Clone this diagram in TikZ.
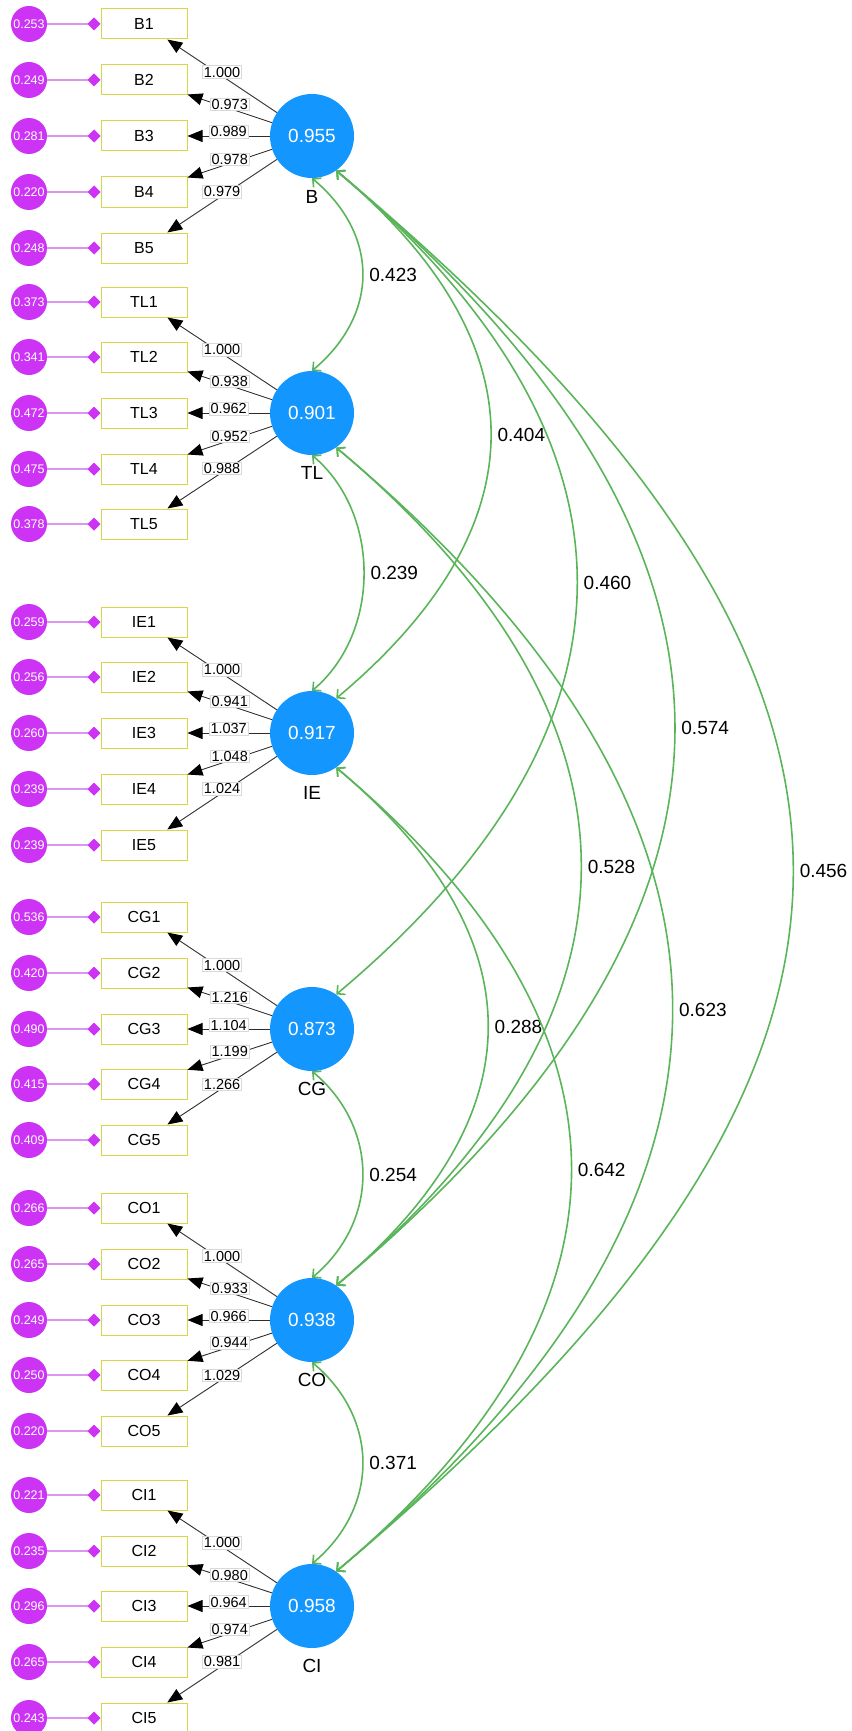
\documentclass[tikz,border=0pt]{standalone}
\usepackage{fontspec}
\setmainfont{Liberation Sans}
\usetikzlibrary{arrows.meta}

\definecolor{latblue}{RGB}{20,150,255}
\definecolor{errpurple}{RGB}{204,51,245}
\definecolor{errline}{RGB}{218,150,240}
\definecolor{boxyellow}{RGB}{214,214,70}
\definecolor{covgreen}{RGB}{90,180,90}
\definecolor{loadgray}{RGB}{45,45,45}

\tikzset{
  latent/.style={circle, fill=latblue, minimum size=84pt, inner sep=0pt, text=white, font=\fontsize{19}{22}\selectfont},
  latname/.style={font=\fontsize{19}{22}\selectfont},
  indicator/.style={rectangle, draw=boxyellow, line width=1pt, fill=white, minimum width=86pt, minimum height=30pt, inner sep=0pt, font=\fontsize{16}{19}\selectfont},
  errvar/.style={circle, fill=errpurple, minimum size=36pt, inner sep=0pt, text=white, font=\fontsize{12.5}{15}\selectfont},
  errpath/.style={draw=errline, line width=1.2pt, -{Turned Square[length=13pt,width=13pt,color=errpurple]}},
  loading/.style={draw=loadgray, line width=0.9pt, -{Triangle[length=15pt,width=12pt,color=black]}},
  loadlabel/.style={midway, yshift=4pt, fill=white, draw=black!15, inner sep=1.2pt, font=\fontsize{14.5}{16}\selectfont},
  covar/.style={draw=covgreen, line width=1.6pt, {Straight Barb[length=6pt,width=12pt]}-{Straight Barb[length=6pt,width=12pt]}},
  covlabel/.style={midway, right, inner sep=6pt, font=\fontsize{19}{22}\selectfont}
}

\begin{document}
\begin{tikzpicture}[x=1pt,y=1pt]
\useasboundingbox (0,0) rectangle (851,-1731);

% latent variables
\node [latent] (B)  at (312,-136)  {0.955};
\node [latent] (TL) at (312,-413)  {0.901};
\node [latent] (IE) at (312,-733)  {0.917};
\node [latent] (CG) at (312,-1029) {0.873};
\node [latent] (CO) at (312,-1320) {0.938};
\node [latent] (CI) at (312,-1606) {0.958};

\node [latname] (nB)  at (312,-197)  {B};
\node [latname] (nTL) at (312,-473)  {TL};
\node [latname] (nIE) at (312,-793)  {IE};
\node [latname] (nCG) at (312,-1089) {CG};
\node [latname] (nCO) at (312,-1380) {CO};
\node [latname] (nCI) at (312,-1666) {CI};

% B
\node [indicator] (B1) at (144,-24)  {B1};
\node [indicator] (B2) at (144,-80)  {B2};
\node [indicator] (B3) at (144,-136) {B3};
\node [indicator] (B4) at (144,-192) {B4};
\node [indicator] (B5) at (144,-248) {B5};
\node [errvar] (eB1) at (29,-24)  {0.253};
\node [errvar] (eB2) at (29,-80)  {0.249};
\node [errvar] (eB3) at (29,-136) {0.281};
\node [errvar] (eB4) at (29,-192) {0.220};
\node [errvar] (eB5) at (29,-248) {0.248};
\draw [errpath] (eB1) -- (B1);
\draw [errpath] (eB2) -- (B2);
\draw [errpath] (eB3) -- (B3);
\draw [errpath] (eB4) -- (B4);
\draw [errpath] (eB5) -- (B5);
\draw [loading] (B) -- (B1) node [loadlabel] {1.000};
\draw [loading] (B) -- (B2) node [loadlabel] {0.973};
\draw [loading] (B) -- (B3) node [loadlabel] {0.989};
\draw [loading] (B) -- (B4) node [loadlabel] {0.978};
\draw [loading] (B) -- (B5) node [loadlabel] {0.979};

% TL
\node [indicator] (TL1) at (144,-302) {TL1};
\node [indicator] (TL2) at (144,-357) {TL2};
\node [indicator] (TL3) at (144,-413) {TL3};
\node [indicator] (TL4) at (144,-469) {TL4};
\node [indicator] (TL5) at (144,-524) {TL5};
\node [errvar] (eTL1) at (29,-302) {0.373};
\node [errvar] (eTL2) at (29,-357) {0.341};
\node [errvar] (eTL3) at (29,-413) {0.472};
\node [errvar] (eTL4) at (29,-469) {0.475};
\node [errvar] (eTL5) at (29,-524) {0.378};
\draw [errpath] (eTL1) -- (TL1);
\draw [errpath] (eTL2) -- (TL2);
\draw [errpath] (eTL3) -- (TL3);
\draw [errpath] (eTL4) -- (TL4);
\draw [errpath] (eTL5) -- (TL5);
\draw [loading] (TL) -- (TL1) node [loadlabel] {1.000};
\draw [loading] (TL) -- (TL2) node [loadlabel] {0.938};
\draw [loading] (TL) -- (TL3) node [loadlabel] {0.962};
\draw [loading] (TL) -- (TL4) node [loadlabel] {0.952};
\draw [loading] (TL) -- (TL5) node [loadlabel] {0.988};

% IE
\node [indicator] (IE1) at (144,-622) {IE1};
\node [indicator] (IE2) at (144,-677) {IE2};
\node [indicator] (IE3) at (144,-733) {IE3};
\node [indicator] (IE4) at (144,-789) {IE4};
\node [indicator] (IE5) at (144,-845) {IE5};
\node [errvar] (eIE1) at (29,-622) {0.259};
\node [errvar] (eIE2) at (29,-677) {0.256};
\node [errvar] (eIE3) at (29,-733) {0.260};
\node [errvar] (eIE4) at (29,-789) {0.239};
\node [errvar] (eIE5) at (29,-845) {0.239};
\draw [errpath] (eIE1) -- (IE1);
\draw [errpath] (eIE2) -- (IE2);
\draw [errpath] (eIE3) -- (IE3);
\draw [errpath] (eIE4) -- (IE4);
\draw [errpath] (eIE5) -- (IE5);
\draw [loading] (IE) -- (IE1) node [loadlabel] {1.000};
\draw [loading] (IE) -- (IE2) node [loadlabel] {0.941};
\draw [loading] (IE) -- (IE3) node [loadlabel] {1.037};
\draw [loading] (IE) -- (IE4) node [loadlabel] {1.048};
\draw [loading] (IE) -- (IE5) node [loadlabel] {1.024};

% CG
\node [indicator] (CG1) at (144,-917)  {CG1};
\node [indicator] (CG2) at (144,-973)  {CG2};
\node [indicator] (CG3) at (144,-1029) {CG3};
\node [indicator] (CG4) at (144,-1084) {CG4};
\node [indicator] (CG5) at (144,-1140) {CG5};
\node [errvar] (eCG1) at (29,-917)  {0.536};
\node [errvar] (eCG2) at (29,-973)  {0.420};
\node [errvar] (eCG3) at (29,-1029) {0.490};
\node [errvar] (eCG4) at (29,-1084) {0.415};
\node [errvar] (eCG5) at (29,-1140) {0.409};
\draw [errpath] (eCG1) -- (CG1);
\draw [errpath] (eCG2) -- (CG2);
\draw [errpath] (eCG3) -- (CG3);
\draw [errpath] (eCG4) -- (CG4);
\draw [errpath] (eCG5) -- (CG5);
\draw [loading] (CG) -- (CG1) node [loadlabel] {1.000};
\draw [loading] (CG) -- (CG2) node [loadlabel] {1.216};
\draw [loading] (CG) -- (CG3) node [loadlabel] {1.104};
\draw [loading] (CG) -- (CG4) node [loadlabel] {1.199};
\draw [loading] (CG) -- (CG5) node [loadlabel] {1.266};

% CO
\node [indicator] (CO1) at (144,-1208) {CO1};
\node [indicator] (CO2) at (144,-1264) {CO2};
\node [indicator] (CO3) at (144,-1320) {CO3};
\node [indicator] (CO4) at (144,-1375) {CO4};
\node [indicator] (CO5) at (144,-1431) {CO5};
\node [errvar] (eCO1) at (29,-1208) {0.266};
\node [errvar] (eCO2) at (29,-1264) {0.265};
\node [errvar] (eCO3) at (29,-1320) {0.249};
\node [errvar] (eCO4) at (29,-1375) {0.250};
\node [errvar] (eCO5) at (29,-1431) {0.220};
\draw [errpath] (eCO1) -- (CO1);
\draw [errpath] (eCO2) -- (CO2);
\draw [errpath] (eCO3) -- (CO3);
\draw [errpath] (eCO4) -- (CO4);
\draw [errpath] (eCO5) -- (CO5);
\draw [loading] (CO) -- (CO1) node [loadlabel] {1.000};
\draw [loading] (CO) -- (CO2) node [loadlabel] {0.933};
\draw [loading] (CO) -- (CO3) node [loadlabel] {0.966};
\draw [loading] (CO) -- (CO4) node [loadlabel] {0.944};
\draw [loading] (CO) -- (CO5) node [loadlabel] {1.029};

% CI
\node [indicator] (CI1) at (144,-1495) {CI1};
\node [indicator] (CI2) at (144,-1551) {CI2};
\node [indicator] (CI3) at (144,-1606) {CI3};
\node [indicator] (CI4) at (144,-1662) {CI4};
\node [indicator] (CI5) at (144,-1718) {CI5};
\node [errvar] (eCI1) at (29,-1495) {0.221};
\node [errvar] (eCI2) at (29,-1551) {0.235};
\node [errvar] (eCI3) at (29,-1606) {0.296};
\node [errvar] (eCI4) at (29,-1662) {0.265};
\node [errvar] (eCI5) at (29,-1718) {0.243};
\draw [errpath] (eCI1) -- (CI1);
\draw [errpath] (eCI2) -- (CI2);
\draw [errpath] (eCI3) -- (CI3);
\draw [errpath] (eCI4) -- (CI4);
\draw [errpath] (eCI5) -- (CI5);
\draw [loading] (CI) -- (CI1) node [loadlabel] {1.000};
\draw [loading] (CI) -- (CI2) node [loadlabel] {0.980};
\draw [loading] (CI) -- (CI3) node [loadlabel] {0.964};
\draw [loading] (CI) -- (CI4) node [loadlabel] {0.974};
\draw [loading] (CI) -- (CI5) node [loadlabel] {0.981};

% covariances
\draw [covar] (B.south)  .. controls +(-40:88) and +(40:88) .. node [covlabel] {0.423} (TL.north);
\draw [covar] (TL.south) .. controls +(-40:90) and +(40:90) .. node [covlabel] {0.239} (IE.north);
\draw [covar] (CG.south) .. controls +(-40:88) and +(40:88) .. node [covlabel] {0.254} (CO.north);
\draw [covar] (CO.south) .. controls +(-40:88) and +(40:88) .. node [covlabel] {0.371} (CI.north);

\draw [covar] (B.-55)  .. controls +(-40:269) and +(40:269) .. node [covlabel] {0.404} (IE.55);
\draw [covar] (B.-55)  .. controls +(-40:419) and +(40:419) .. node [covlabel] {0.460} (CG.55);
\draw [covar] (B.-55)  .. controls +(-40:589) and +(40:589) .. node [covlabel] {0.574} (CO.55);
\draw [covar] (B.-55)  .. controls +(-40:795) and +(40:795) .. node [covlabel] {0.456} (CI.55);
\draw [covar] (TL.-55) .. controls +(-40:426) and +(40:426) .. node [covlabel] {0.528} (CO.55);
\draw [covar] (TL.-55) .. controls +(-40:585) and +(40:585) .. node [covlabel] {0.623} (CI.55);
\draw [covar] (IE.-55) .. controls +(-40:264) and +(40:264) .. node [covlabel] {0.288} (CO.55);
\draw [covar] (IE.-55) .. controls +(-40:409) and +(40:409) .. node [covlabel] {0.642} (CI.55);

\end{tikzpicture}
\end{document}
